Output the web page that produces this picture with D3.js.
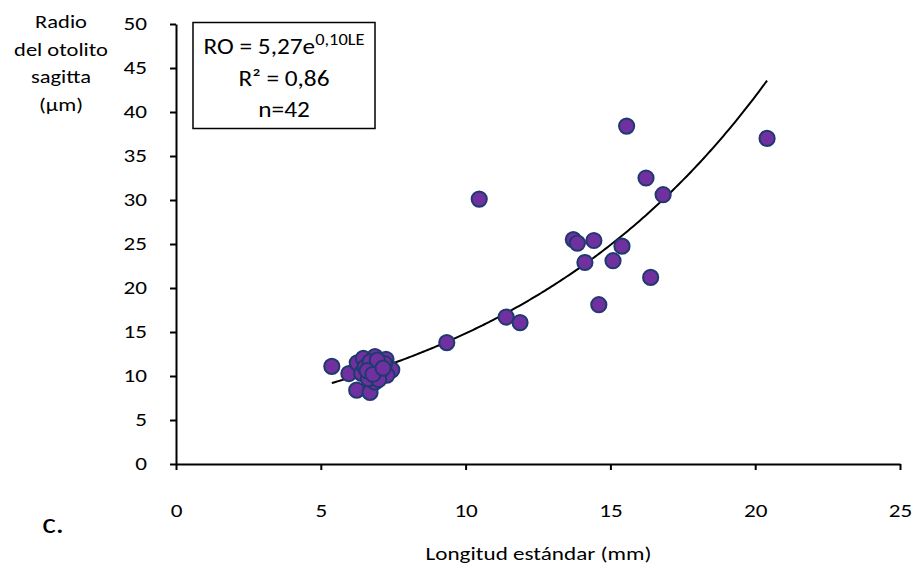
<!DOCTYPE html>
<html>
<head>
<meta charset="utf-8">
<script src="https://cdn.jsdelivr.net/npm/d3@7"></script>
<style>
  html, body { margin: 0; padding: 0; background: #fff; }
  svg { display: block; font-family: Carlito, Lato, "Liberation Sans", sans-serif; }
</style>
</head>
<body>
<svg id="chart" width="915" height="567"></svg>
<script>
// Longitud estándar (mm)
const le = [5.38, 5.97, 6.24, 6.70, 9.35, 10.47, 11.40, 11.88, 13.72, 13.86,
            14.43, 14.12, 14.60, 15.09, 15.40, 15.56, 16.23, 16.39, 16.82, 20.41,
            6.26, 6.47, 6.87, 7.25, 7.33, 7.45, 7.28, 6.87, 6.87, 6.87,
            6.41, 6.53, 6.64, 6.70, 7.10, 7.04, 7.20, 6.95, 6.60, 7.00, 6.80, 7.15];
// Radio del otolito sagitta (µm)
const ro = [11.1, 10.28, 8.39, 8.13, 13.8, 30.1, 16.7, 16.07, 25.5, 25.1,
            25.4, 22.9, 18.1, 23.1, 24.75, 38.4, 32.5, 21.2, 30.6, 37.0,
            11.5, 12.0, 12.2, 11.9, 11.0, 10.7, 10.1, 11.0, 9.9, 9.3,
            10.3, 11.0, 9.7, 11.6, 11.2, 10.5, 11.4, 11.8, 10.6, 9.6, 10.2, 10.9];
const xTicks = [0, 5, 10, 15, 20, 25];
const yTicks = [0, 5, 10, 15, 20, 25, 30, 35, 40, 45, 50];
// exponential trendline RO = a·e^(b·LE)
const fitA = 5.27, fitB = 0.1035;
const yTitle = ["Radio", "del otolito", "sagitta", "(µm)"];
const eqLines = ["R² = 0,86", "n=42"];

const SX = 1.25;   // horizontal stretch of the lettering
const svg = d3.select("#chart");
const x = d3.scaleLinear().domain([0, 25]).range([176, 900]);
const y = d3.scaleLinear().domain([0, 50]).range([464, 24]);

function stext(px, py, size, sx, anchor, txt) {
  const g = svg.append("g").attr("transform", `translate(${px},${py}) scale(${sx},1)`);
  return g.append("text").attr("text-anchor", anchor).attr("fill", "#000")
    .style("font-size", size + "px").text(txt);
}

// axes
const xAxis = svg.append("g").attr("transform", `translate(0,${y(0)})`)
  .call(d3.axisBottom(x).tickValues(xTicks).tickSize(6).tickSizeOuter(0).tickPadding(34).tickFormat(d3.format("d")));
const yAxis = svg.append("g").attr("transform", `translate(${x(0)},0)`)
  .call(d3.axisLeft(y).tickValues(yTicks).tickSize(6).tickSizeOuter(0).tickPadding(23).tickFormat(d3.format("d")));
[xAxis, yAxis].forEach(g => {
  g.select(".domain").attr("stroke", "#000").attr("stroke-width", 2);
  g.selectAll(".tick line").attr("stroke", "#000").attr("stroke-width", 2);
  g.selectAll(".tick text").attr("fill", "#000").style("font-size", "18.5px")
    .style("font-family", "Carlito, Lato, 'Liberation Sans', sans-serif")
    .attr("transform", `scale(${SX},1)`);
});
yAxis.selectAll(".tick text").attr("x", -29 / SX);

// trendline
const [xmin, xmax] = d3.extent(le);
const curvePts = d3.range(0, 201).map(i => {
  const v = xmin + (xmax - xmin) * i / 200;
  return [v, fitA * Math.exp(fitB * v)];
});
svg.append("path")
  .attr("d", d3.line().x(d => x(d[0])).y(d => y(d[1]))(curvePts))
  .attr("fill", "none").attr("stroke", "#000").attr("stroke-width", 2);

// points
svg.append("g").selectAll("circle").data(le.map((v, i) => [v, ro[i]])).join("circle")
  .attr("cx", d => x(d[0])).attr("cy", d => y(d[1])).attr("r", 7.6)
  .attr("fill", "#7030A0").attr("stroke", "#1F3A6E").attr("stroke-width", 2);

// equation box
svg.append("rect").attr("x", 193).attr("y", 22.5).attr("width", 182).attr("height", 106)
  .attr("fill", "#fff").attr("stroke", "#000").attr("stroke-width", 1.5);
const eq = stext(284, 54, 22, 1.15, "middle", null);
eq.append("tspan").text("RO = 5,27e");
eq.append("tspan").attr("dy", -9).style("font-size", "16px").text("0,10LE");
eqLines.forEach((t, i) => stext(284, 86 + i * 31, 22, 1.15, "middle", t));

// y title
yTitle.forEach((t, i) => stext(61, 28 + i * 27.7, 18, SX, "middle", t));
// x title
stext(538.5, 560, 18.5, SX, "middle", "Longitud estándar (mm)");
// panel label
stext(64, 533, 28, 1.15, "end", "c.");
</script>
</body>
</html>
